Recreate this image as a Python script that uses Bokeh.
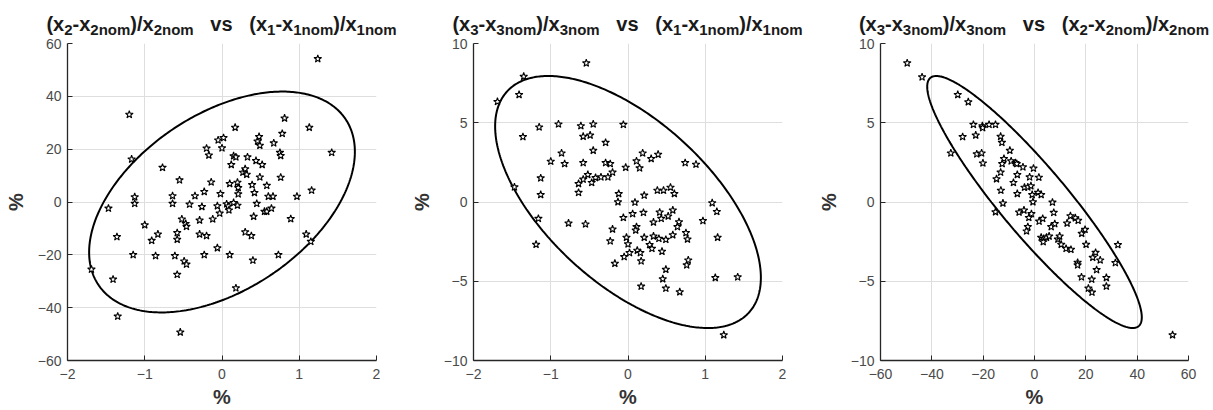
import numpy as np
from bokeh.plotting import figure
from bokeh.layouts import row, column
from bokeh.models import FixedTicker, Range1d, Div
from bokeh.embed import file_html
from bokeh.resources import INLINE

# ---------------- data ----------------
# panel 1: x = (x1-x1nom)/x1nom [%], y = (x2-x2nom)/x2nom [%]
p1_x = [1.24, -1.20, -1.17, -0.77, -0.55, -1.13, -1.13, -1.47, -1.00, -1.36,
        -0.91, -0.83, -1.15, -0.86, -1.69, -1.41, -1.35, -0.54, -0.58, -0.49,
        -0.46, -0.61, -0.58, -0.58, -0.52, -0.47, -0.46, -0.64, -0.64, -0.42,
        -0.35, -0.29, -0.29, -0.26, -0.23, -0.20, -0.23, -0.20, -0.17, -0.14,
        -0.12, -0.06, -0.06, -0.03, -0.02, -0.05, 0.02, 0.00, 0.10, 0.06,
        0.08, 0.09, 0.10, 0.12, 0.15, 0.17, 0.18, 0.15, 0.20, 0.20,
        0.21, 0.21, 0.18, 0.27, 0.30, 0.32, 0.33, 0.30, 0.38, 0.40,
        0.39, 0.42, 0.41, 0.44, 0.45, 0.46, 0.48, 0.49, 0.52, 0.49,
        0.58, 0.60, 0.55, 0.58, 0.64, 0.66, 0.67, 0.76, 0.75, 0.76,
        0.78, 0.81, 0.73, 0.89, 0.97, 1.09, 1.15, 1.16, 1.13, 1.42]
p1_y = [54.2, 33.1, 16.2, 13.0, 8.3, 1.9, -0.6, -2.4, -8.7, -13.2,
        -14.6, -12.2, -20.0, -20.4, -25.5, -29.3, -43.3, -49.3, -27.5, -22.4,
        -23.6, -20.4, -14.2, -11.7, -6.5, -8.2, -9.3, 2.3, -0.6, -0.9,
        2.3, -6.9, -12.2, -1.8, 3.9, -12.8, -20.0, 20.3, 17.7, 7.5,
        -6.5, -17.4, -1.5, -4.3, 3.1, 23.4, 24.3, 20.4, -20.0, -0.8,
        -1.6, -3.1, 6.9, 14.1, 17.4, 28.2, 17.0, -0.3, -1.3, 7.4,
        5.4, 3.0, -32.6, 11.2, 12.5, 10.4, 17.0, -11.4, -12.8, -22.1,
        6.5, 3.5, -5.5, 15.6, -0.6, 23.0, 24.7, 21.4, 14.1, 9.4,
        6.2, 2.1, -3.6, -3.6, -2.4, 2.1, 22.3, 9.3, 18.7, 17.5,
        25.9, 31.7, -20.0, -6.4, 2.1, -12.2, -15.0, 4.4, 28.2, 18.7]

# panel 2: x = (x1-x1nom)/x1nom [%], y = (x3-x3nom)/x3nom [%]
p2_x = [-0.54, -1.35, -1.41, -1.69, -1.15, -0.90, -1.36, -0.61, -0.45, -0.06,
        -0.58, -0.49, -0.29, -0.86, -0.45, -1.00, -0.82, -0.58, -0.29, -0.23,
        -0.03, 0.11, 0.15, 0.19, 0.30, 0.39, 0.74, 0.88, -1.13, -1.13,
        -1.47, -0.64, -0.58, -0.52, -0.47, -0.42, -0.35, -0.26, -0.20, -0.64,
        -0.12, -0.13, 0.21, 0.09, 0.38, 0.46, 0.55, 0.60, -1.16, -0.77,
        -0.55, -1.19, -0.06, 0.06, 0.20, 0.41, 0.43, 0.52, 0.58, 0.33,
        0.11, 0.10, -0.20, 0.66, 0.64, -0.23, -0.02, 0.00, 0.21, 0.33,
        0.40, 0.49, 0.58, 0.75, 0.77, 0.97, 1.09, 1.15, 1.16, 0.28,
        0.31, 0.12, 0.02, -0.05, 0.16, 0.17, -0.17, 0.44, 0.49, 0.78,
        0.76, 0.45, 0.49, 0.17, 0.67, 1.13, 1.42, 1.24]
p2_y = [8.76, 7.92, 6.77, 6.33, 4.72, 4.91, 4.11, 4.80, 4.91, 4.88,
        4.13, 4.21, 3.75, 3.08, 3.25, 2.56, 2.41, 2.47, 2.47, 2.41,
        2.18, 2.58, 2.14, 3.08, 2.73, 3.00, 2.47, 2.37, 1.51, 0.46,
        0.94, 1.15, 1.43, 1.72, 1.22, 1.53, 1.57, 1.57, 1.87, 0.59,
        0.52, 0.00, 0.42, -0.02, 0.73, 0.73, 0.92, 0.52, -1.05, -1.34,
        -1.40, -2.68, -0.99, -0.75, -0.67, -0.65, -1.05, -0.90, -0.52, -1.28,
        -1.57, -1.78, -1.72, -1.26, -1.57, -2.47, -2.24, -2.66, -2.24, -2.16,
        -2.31, -2.37, -2.08, -1.95, -2.35, -1.19, -0.06, -0.61, -2.24, -2.70,
        -2.94, -3.06, -3.21, -3.46, -3.21, -3.73, -3.88, -3.12, -4.26, -3.67,
        -3.98, -4.86, -5.45, -5.32, -5.68, -4.78, -4.74, -8.39]

# panel 3: x = (x2-x2nom)/x2nom [%], y = (x3-x3nom)/x3nom [%]
p3_x = [-49.6, -43.8, -29.9, -25.8, -23.8, -20.3, -20.2, -17.7, -15.2, -28.0,
        -22.9, -13.2, -12.7, -32.6, -22.5, -20.6, -20.1, -9.6, -11.9, -12.6,
        -9.1, -7.4, -6.9, -4.5, -0.4, -13.2, -6.7, -14.8, -8.2, -1.9,
        1.7, -3.9, -2.6, -1.4, -13.1, -6.7, -0.9, 1.4, 2.6, -0.6,
        -12.3, -15.2, -6.0, -4.1, -1.2, -2.2, 7.0, 7.5, 1.8, 3.2,
        -2.6, -3.1, 6.5, 7.9, 12.7, 14.0, 15.9, 17.0, 2.6, 3.6,
        4.7, 5.7, 3.4, 9.1, 9.8, 10.4, 12.3, 14.2, 18.4, 19.7,
        20.1, 16.8, 16.8, 22.7, 23.8, 25.6, 24.2, 18.3, 22.3, 28.0,
        28.0, 21.0, 22.4, 31.5, 32.5, 53.8]
p3_y = [8.76, 7.88, 6.77, 6.31, 4.88, 4.80, 4.68, 4.88, 4.88, 4.11,
        4.21, 4.13, 3.75, 3.08, 3.02, 3.08, 2.45, 3.25, 2.73, 2.41,
        2.58, 2.47, 2.41, 2.20, 2.12, 1.87, 1.72, 1.45, 1.22, 1.57,
        1.55, 0.92, 0.94, 1.01, 0.73, 0.52, 0.46, 0.59, 0.46, 0.00,
        -0.08, -0.63, -0.65, -0.52, -0.75, -0.99, -0.02, -0.67, -1.22, -1.05,
        -1.57, -1.84, -1.57, -1.38, -1.34, -0.88, -1.01, -1.17, -2.24, -2.31,
        -2.24, -2.16, -2.52, -2.35, -2.16, -2.68, -2.94, -3.00, -1.99, -1.74,
        -2.68, -3.82, -3.98, -3.50, -3.19, -3.67, -4.28, -4.74, -4.88, -4.78,
        -5.32, -5.45, -5.70, -3.84, -2.70, -8.39]

# confidence-ellipse half extents (in %) and correlations
half_x1, half_x2, half_x3 = 1.72, 41.8, 7.95
corr_12, corr_13, corr_23 = 0.455, -0.60, -0.915

# axis ranges and ticks
x1_range, x2_range, x3_range = (-2, 2), (-60, 60), (-10, 10)
x1_ticks = [-2, -1, 0, 1, 2]
x2_ticks = [-60, -40, -20, 0, 20, 40, 60]
x3_ticks = [-10, -5, 0, 5, 10]

# title pieces: (text, "m" main / "s" subscript)
titles = [
    [("(x", "m"), ("2", "s"), ("-x", "m"), ("2nom", "s"), (")/x", "m"), ("2nom", "s"),
     ("   vs   (x", "m"), ("1", "s"), ("-x", "m"), ("1nom", "s"), (")/x", "m"), ("1nom", "s")],
    [("(x", "m"), ("3", "s"), ("-x", "m"), ("3nom", "s"), (")/x", "m"), ("3nom", "s"),
     ("   vs   (x", "m"), ("1", "s"), ("-x", "m"), ("1nom", "s"), (")/x", "m"), ("1nom", "s")],
    [("(x", "m"), ("3", "s"), ("-x", "m"), ("3nom", "s"), (")/x", "m"), ("3nom", "s"),
     ("   vs   (x", "m"), ("2", "s"), ("-x", "m"), ("2nom", "s"), (")/x", "m"), ("2nom", "s")],
]

# ---------------- styling ----------------
FONT = "Liberation Sans"
AXIS_COLOR = "#262626"
TICK_COLOR = "#4a4a4a"
GRID_COLOR = "#dedede"
MAIN_SIZE = 20
SUB_SIZE = 15
H = 410
TITLE_H = 37
TOP, BOTTOM = 6, 50


def title_div(pieces, width, left, right):
    center = left + (width - left - right) / 2.0
    parts = []
    for s, k in pieces:
        if k == "m":
            parts.append(f'<span style="font-size:{MAIN_SIZE}px">{s}</span>')
        else:
            parts.append(f'<span style="font-size:{SUB_SIZE}px;position:relative;top:4px">{s}</span>')
    html = (f'<div style="width:{2 * center:.1f}px;text-align:center;white-space:pre;'
            f'font-family:\'{FONT}\';font-weight:bold;color:#1a1a1a;'
            f'line-height:22px;padding-top:13px;margin:0">' + "".join(parts) + "</div>")
    return Div(text=html, width=width, height=TITLE_H, margin=(0, 0, 0, 0))


def panel(xs, ys, xr, yr, xt, yt, hx, hy, rho, title, width, left, right):
    p = figure(width=width, height=H - TITLE_H, x_range=Range1d(*xr), y_range=Range1d(*yr),
               output_backend="svg", toolbar_location=None,
               min_border_left=left, min_border_right=right,
               min_border_top=TOP, min_border_bottom=BOTTOM, margin=(0, 0, 0, 0))
    p.outline_line_color = None
    p.background_fill_color = "white"
    p.border_fill_color = "white"
    p.xaxis.ticker = FixedTicker(ticks=xt)
    p.yaxis.ticker = FixedTicker(ticks=yt)
    p.grid.grid_line_color = GRID_COLOR
    p.grid.grid_line_width = 1
    for ax in (p.xaxis[0], p.yaxis[0]):
        ax.axis_line_color = AXIS_COLOR
        ax.axis_line_width = 1.3
        ax.major_tick_line_color = AXIS_COLOR
        ax.major_tick_in = 5
        ax.major_tick_out = 0
        ax.minor_tick_line_color = None
        ax.major_label_text_font = FONT
        ax.major_label_text_font_size = "14px"
        ax.major_label_text_color = TICK_COLOR
        ax.axis_label = "%"
        ax.axis_label_text_font = FONT
        ax.axis_label_text_font_size = "20px"
        ax.axis_label_text_font_style = "bold"
        ax.axis_label_text_color = "#333333"
    p.xaxis.major_label_standoff = 8
    p.xaxis.axis_label_standoff = 4
    p.yaxis.major_label_standoff = 6
    p.yaxis.axis_label_standoff = 8

    # confidence ellipse
    t = np.linspace(0, 2 * np.pi, 400)
    ex = hx * np.cos(t)
    ey = hy * (rho * np.cos(t) + np.sqrt(1 - rho ** 2) * np.sin(t))
    p.line(ex, ey, line_color="black", line_width=2)

    # samples
    p.scatter(xs, ys, marker="star", size=8, fill_color="white",
              line_color="black", line_width=1.1)

    return column(title_div(title, width, left, right), p, spacing=0)


c1 = panel(p1_x, p1_y, x1_range, x2_range, x1_ticks, x2_ticks,
           half_x1, half_x2, corr_12, titles[0], 404, 67, 28)
c2 = panel(p2_x, p2_y, x1_range, x3_range, x1_ticks, x3_ticks,
           half_x1, half_x3, corr_13, titles[1], 404, 69, 26)
c3 = panel(p3_x, p3_y, x2_range, x3_range, x2_ticks, x3_ticks,
           half_x2, half_x3, corr_23, titles[2], 405, 72, 25)

layout = row(c1, c2, c3, spacing=0)
open("out.html", "w").write(file_html(layout, INLINE))
